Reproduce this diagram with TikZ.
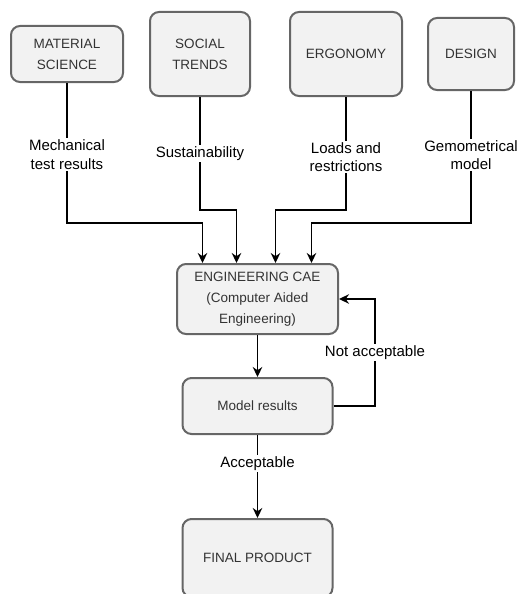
\documentclass[tikz,border=0pt]{standalone}
\usepackage{fontspec}
\setmainfont{Liberation Sans}
\usetikzlibrary{arrows.meta,positioning}
\definecolor{BoxFill}{HTML}{F2F2F2}
\definecolor{BoxLine}{HTML}{666666}
\definecolor{BoxText}{HTML}{333333}

\begin{document}
\begin{tikzpicture}[x=1pt,y=-1pt,
  box/.style={draw=BoxLine,line width=2pt,rounded corners=9pt,fill=BoxFill,
    text=BoxText,align=center,inner sep=0pt,font=\fontsize{13.5}{21}\selectfont},
  lbl/.style={fill=white,inner sep=1.5pt,align=center,
    font=\fontsize{15}{18.5}\selectfont},
  flow/.style={-{Stealth[length=10pt,width=9.5pt]},line width=1.3pt}
]
\useasboundingbox (0,0) rectangle (520,594);
\node[box,minimum width=112pt,minimum height=56pt] (matsci) at (67,54) {MATERIAL\\SCIENCE};
\node[box,minimum width=100pt,minimum height=84pt] (social) at (200,54) {SOCIAL\\TRENDS};
\node[box,minimum width=112pt,minimum height=84pt] (ergo) at (346,54) {ERGONOMY};
\node[box,minimum width=86pt,minimum height=72pt] (design) at (471,54) {DESIGN};
\node[box,minimum width=161pt,minimum height=70pt] (cae) at (257.5,299)
  {ENGINEERING CAE\\(Computer Aided\\Engineering)};
\node[box,minimum width=150pt,minimum height=56pt] (results) [below=42pt of cae] {Model results};
\node[box,minimum width=150pt,minimum height=78pt] (final) [below=83pt of results] {FINAL PRODUCT};

\draw[flow] (matsci.south) -- node[lbl,pos=0.51] {Mechanical\\test results} ++(0,140)
  -| ([xshift=-55pt]cae.north);
\draw[flow] (social.south) -- node[lbl] {Sustainability} ++(0,113)
  -| ([xshift=-21pt]cae.north);
\draw[flow] (ergo.south) -- node[lbl,pos=0.53] {Loads and\\restrictions} ++(0,113)
  -| ([xshift=18pt]cae.north);
\draw[flow] (design.south) -- node[lbl,pos=0.485] {Gemometrical\\model} ++(0,132)
  -| ([xshift=54pt]cae.north);
\draw[flow] (cae) -- (results);
\draw[flow] (results.east) -| node[lbl,pos=0.75] {Not acceptable} ([xshift=36pt]cae.east)
  -- (cae.east);
\draw[flow] (results) -- node[lbl,pos=0.34] {Acceptable} (final);
\end{tikzpicture}
\end{document}
